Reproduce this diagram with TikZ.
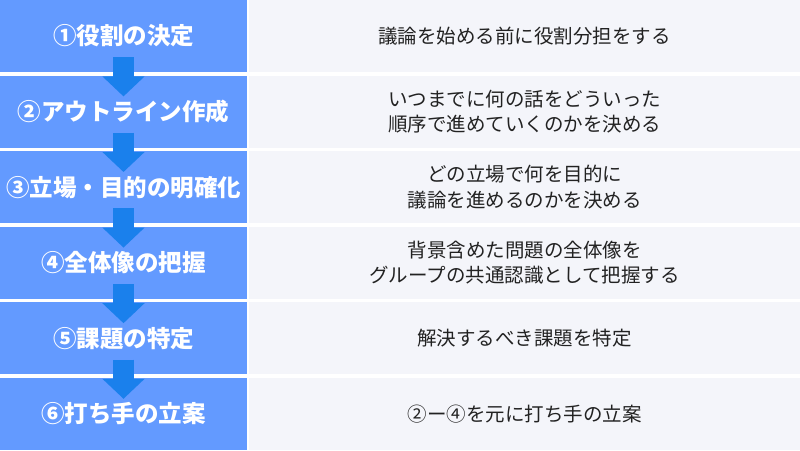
\documentclass[tikz,border=0pt]{standalone}
\usepackage{fontspec}
\setmainfont{Noto Sans CJK JP}
\usetikzlibrary{arrows.meta}
\definecolor{stepblue}{HTML}{639AFF}
\definecolor{arrowblue}{HTML}{1A80EC}
\definecolor{descgray}{HTML}{F4F5FA}
\definecolor{desctext}{HTML}{222222}
\begin{document}
\begin{tikzpicture}
[x=1pt, y=-1pt,
  titledecorate/.style={shape=rectangle, fill=stepblue, text=white,
    minimum width=247pt, minimum height=72pt, inner sep=0pt,
    font=\fontsize{23.5}{28}\selectfont\bfseries},
  descdecorate/.style={shape=rectangle, fill=descgray, text=desctext,
    minimum width=551pt, minimum height=72pt, inner sep=0pt, align=center,
    font=\fontsize{19.5}{25.5}\selectfont},
  flowdecorate/.style={-{Triangle[width=41pt,length=20pt]}, draw=arrowblue,
    line width=21pt}]
\useasboundingbox (0,0) rectangle (800,450);
%% steps and their descriptions
\foreach \i/\title/\desc in {1/{①役割の決定}/{議論を始める前に役割分担をする},
  2/{②アウトライン作成}/{いつまでに何の話をどういった\\順序で進めていくのかを決める},
  3/{③立場・目的の明確化}/{どの立場で何を目的に\\議論を進めるのかを決める},
  4/{④全体像の把握}/{背景含めた問題の全体像を\\グループの共通認識として把握する},
  5/{⑤課題の特定}/{解決するべき課題を特定},
  6/{⑥打ち手の立案}/{②ー④を元に打ち手の立案}}
{
  \pgfmathsetmacro{\y}{36+(\i-1)*75.6}
  \node (t\i) at (123.5,\y) [titledecorate] {\title};
  \node (d\i) at (524.5,\y) [descdecorate] {\desc};
}
%% arrows between steps
\path
\foreach \startnode/\endnode in {1/2, 2/3, 3/4, 4/5, 5/6}
{
  ([yshift=15pt]t\startnode.south) edge[flowdecorate] ([yshift=-21pt]t\endnode.north)
};
\end{tikzpicture}
\end{document}
